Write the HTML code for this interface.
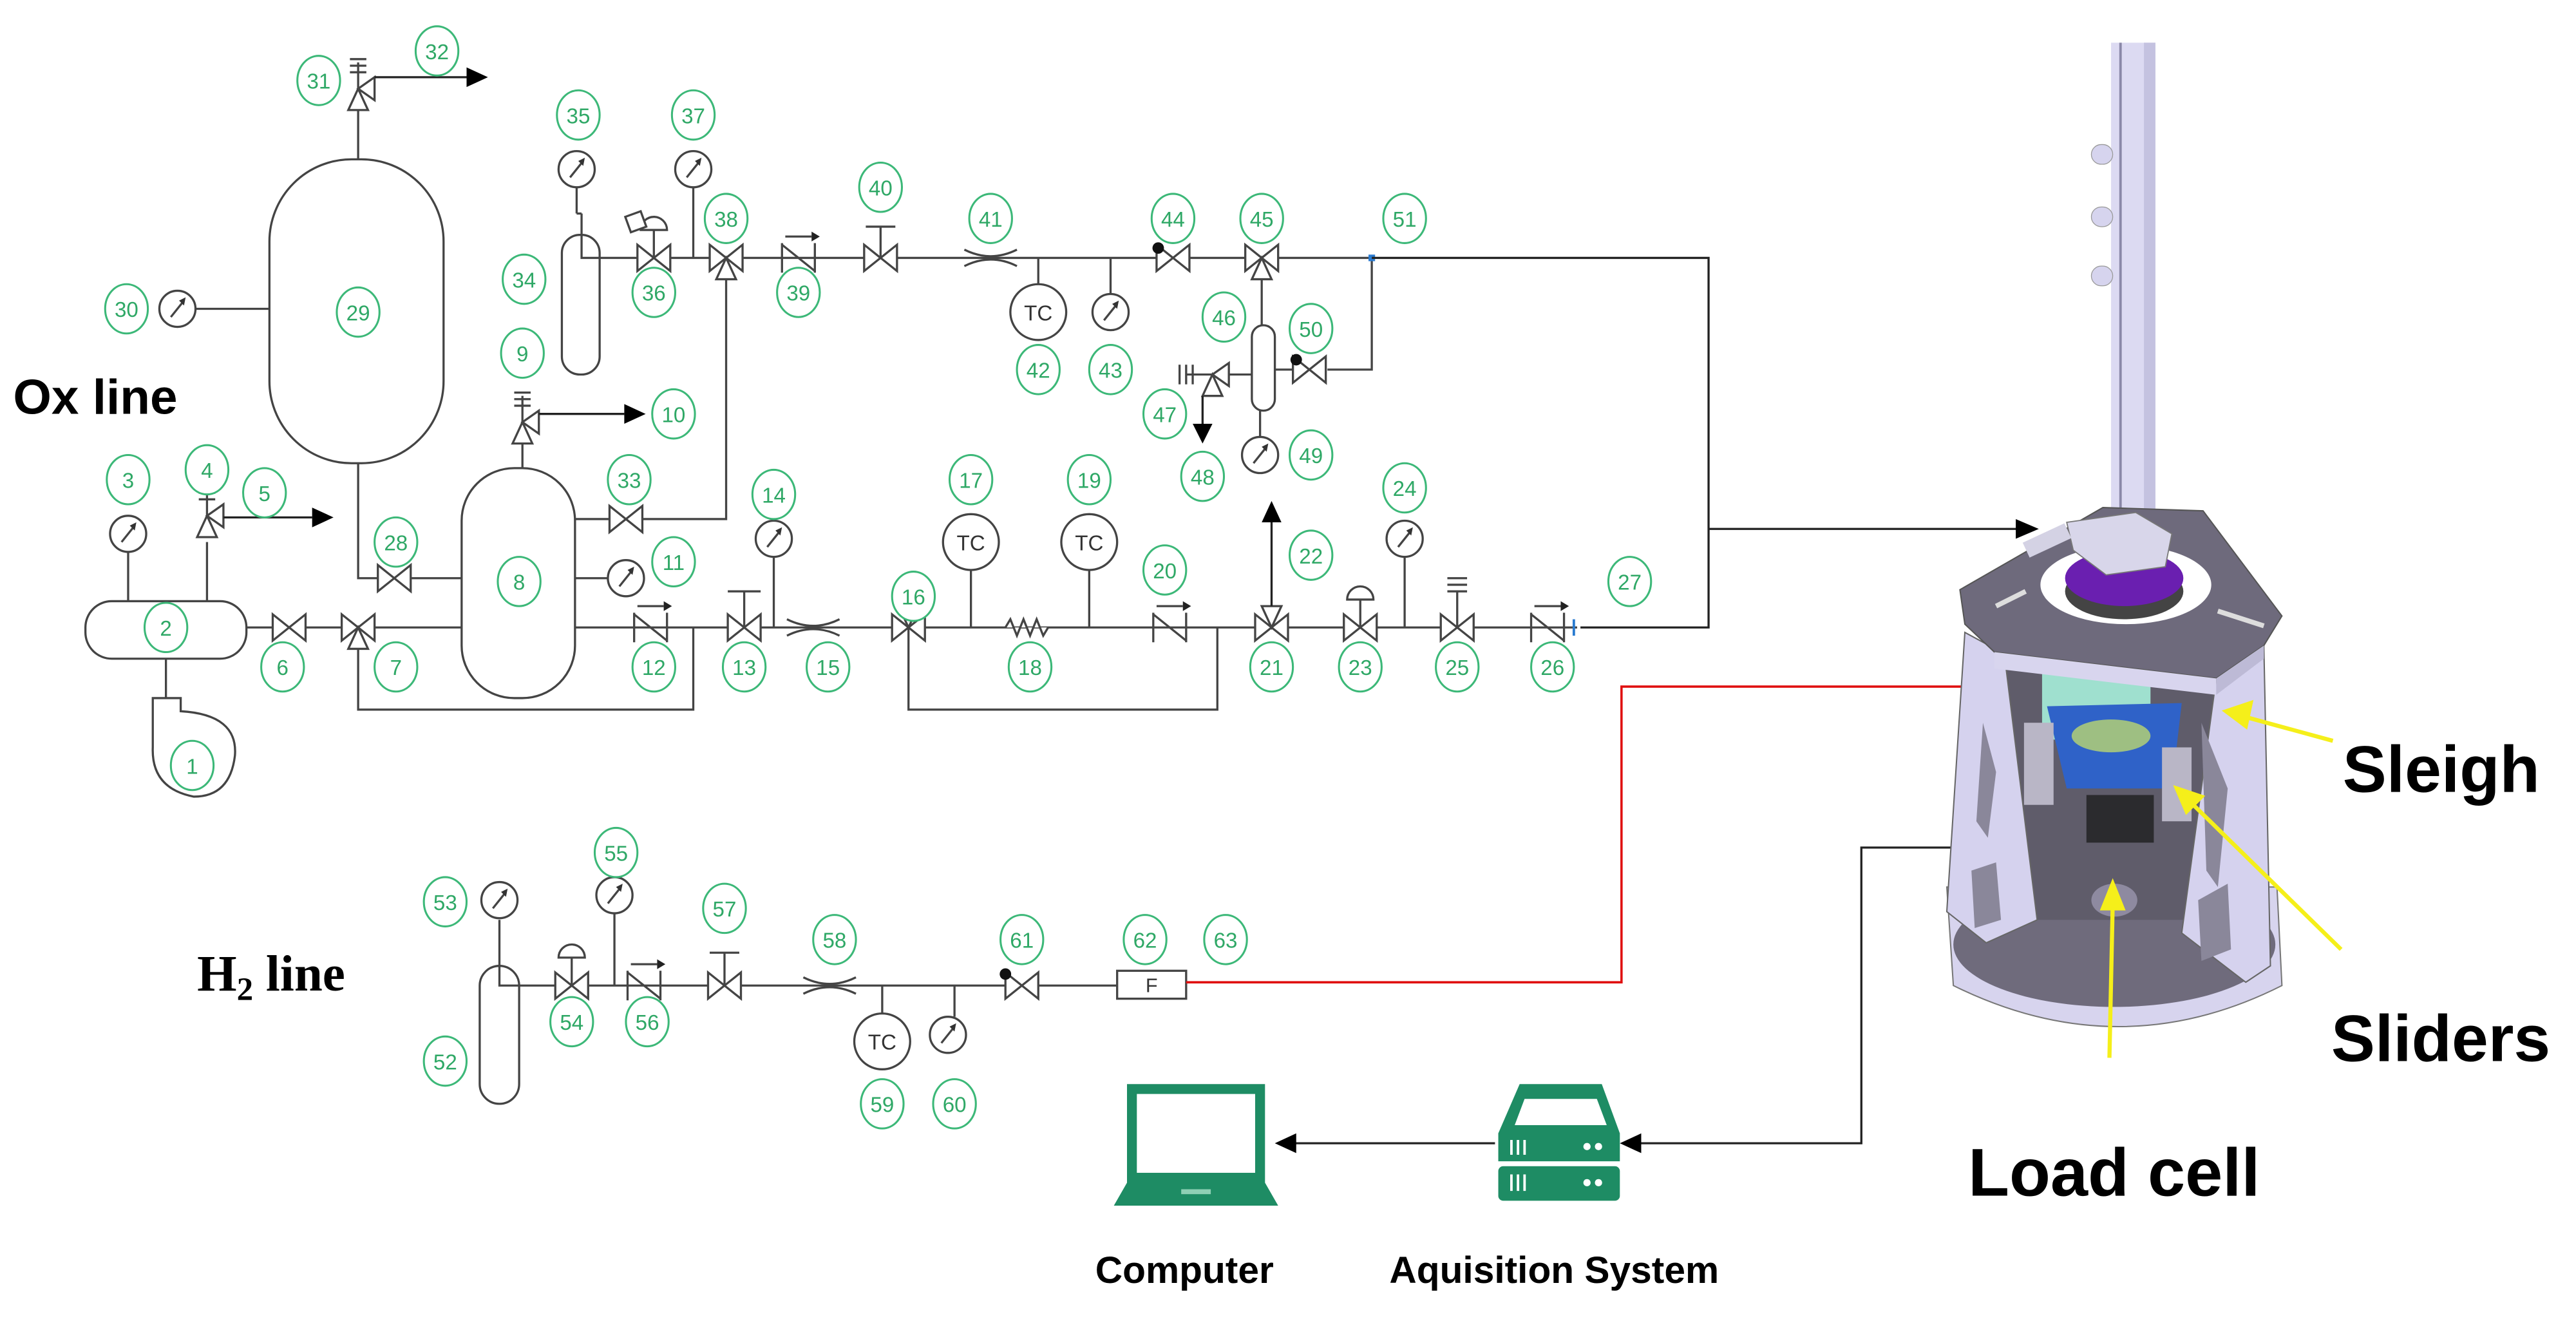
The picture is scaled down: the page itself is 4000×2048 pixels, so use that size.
<!DOCTYPE html>
<html><head><meta charset="utf-8"><style>
html,body{margin:0;padding:0;background:#fff;}
svg{display:block;}
.l{fill:none;stroke:#444;stroke-width:1.3}
.k{fill:none;stroke:#222;stroke-width:1.3}
.s{fill:#fff;stroke:#444;stroke-width:1.3}
.lb ellipse{fill:#fff;stroke:#3cb878;stroke-width:1.2}
.lb text{fill:#2fa866;font-family:"Liberation Sans",sans-serif;font-size:13px;text-anchor:middle}
.b{font-family:"Liberation Sans",sans-serif;font-weight:bold;fill:#000}
</style></head><body>
<svg width="4000" height="2048" viewBox="0 0 1568 803" preserveAspectRatio="none" xmlns="http://www.w3.org/2000/svg">
<defs>
<g id="v"><path class="s" d="M-10,-8 L0,0 L-10,8Z M10,-8 L0,0 L10,8Z"/></g>
<g id="v3"><path class="s" d="M-10,-8 L0,0 L-10,8Z M10,-8 L0,0 L10,8Z M0,0 L-6,13 L6,13Z"/></g>
<g id="v3u"><path class="s" d="M-10,-8 L0,0 L-10,8Z M10,-8 L0,0 L10,8Z M0,0 L-6,-13 L6,-13Z"/></g>
<g id="ck"><path class="l" d="M-10,-9 V9 M10,-9 V9 M-10,-8 L10,8"/><path class="l" d="M-8,-13 H8"/><path d="M8,-16 L13,-13 L8,-10Z" fill="#222"/></g>
<g id="g"><circle class="s" r="11"/><path class="l" d="M-4,5 L4,-5"/><path d="M5,-7 L1,-5 L4,-2Z" fill="#333"/></g>
<g id="tc"><circle class="s" r="17"/><text y="5" text-anchor="middle" font-family="Liberation Sans,sans-serif" font-size="13" fill="#333">TC</text></g>
<g id="or"><path class="l" d="M-16,-5 Q0,3 16,-5 M-16,5 Q0,-3 16,5"/></g>
<g id="rv"><path class="s" d="M0,0 L-6,13 L6,13Z M0,0 L10,-7 L10,7Z"/><path class="l" d="M0,0 V-16 M-5,-10 H5 M-5,-14 H5 M-5,-18 H5"/></g>
</defs>

<rect class="s" x="52" y="366" width="98" height="35" rx="16"/>
<path class="l" d="M78,336 V366 M126,330 V366 M101,401 V425"/>
<path class="s" d="M93,425 H110 V433 Q145,435 143,460 Q140,485 118,485 Q92,480 93,455 Z"/>
<use href="#g" x="78" y="325"/>
<use href="#rv" x="126" y="322" transform="translate(0,-8)"/>
<path class="k" d="M136,315 H190"/><path d="M190,309 L203,315 L190,321Z" fill="#000"/>
<path class="l" d="M150,382 H281 M350,382 H960"/>
<use href="#v" x="176" y="382"/>
<use href="#v3" x="218" y="382"/>
<path class="l" d="M218,395 V432 H422 V382"/>
<rect class="s" x="164" y="97" width="106" height="185" rx="50"/>
<path class="l" d="M218,282 V352 H281 M119,188 H164 M218,97 V66"/>
<use href="#g" x="108" y="188"/>
<use href="#rv" x="218" y="66" transform="translate(0,-12)"/>
<path class="k" d="M228,47 H285"/><path d="M284,41 L297,47 L284,53Z" fill="#000"/>
<use href="#v" x="240" y="352"/>
<rect class="s" x="281" y="285" width="69" height="140" rx="32"/>
<path class="l" d="M318,285 V270 M350,316 H442 V165 M350,352 H370"/>
<use href="#rv" x="318" y="270" transform="translate(0,-13)"/>
<path class="k" d="M328,252 H380"/><path d="M380,246 L393,252 L380,258Z" fill="#000"/>
<use href="#v" x="381" y="316"/>
<use href="#g" x="381" y="352"/>
<use href="#ck" x="396" y="382"/>
<path class="l" d="M453,382 V360 M443,360 H463 M471,382 V339"/>
<use href="#v" x="453" y="382"/>
<use href="#g" x="471" y="328"/>
<use href="#or" x="495" y="382"/>
<use href="#v3u" x="553" y="382"/>
<path class="l" d="M553,382 V432 H741 V382"/>
<path class="l" d="M591,347 V382 M663,347 V382"/>
<use href="#tc" x="591" y="330"/><use href="#tc" x="663" y="330"/>
<path class="s" d="M612,382 l3,-5 l4,10 l4,-10 l4,10 l4,-10 l4,10 l3,-5"/>
<use href="#ck" x="712" y="382"/>
<use href="#v3u" x="774" y="382"/>
<path class="k" d="M774,369 V318"/><path d="M768,318 L774,305 L780,318Z" fill="#000"/>
<use href="#v" x="828" y="382"/>
<path class="l" d="M828,382 V365"/><path class="s" d="M820,365 A8,8 0 0 1 836,365 Z"/>
<path class="l" d="M855,339 V382 M887,382 V360 M881,352 H893 M881,356 H893 M881,360 H893"/>
<use href="#g" x="855" y="328"/>
<use href="#v" x="887" y="382"/>
<use href="#ck" x="942" y="382"/>
<rect class="s" x="342" y="143" width="23" height="85" rx="11"/>
<path class="l" d="M354,143 V130 M351,114 V130 M422,114 V157 M354,130 H351 M354,130 V157 H835 M398,157 V140"/>
<use href="#g" x="351" y="103"/><use href="#g" x="422" y="103"/>
<use href="#v" x="398" y="157"/>
<path class="s" d="M390,140 A8,8 0 0 1 406,140 Z"/><path class="s" d="M382,130 H392 V140 H382Z" transform="rotate(-20 387 135)"/>
<use href="#v3" x="442" y="157"/>
<use href="#ck" x="486" y="157"/>
<path class="l" d="M536,157 V138 M527,138 H545"/>
<use href="#v" x="536" y="157"/>
<use href="#or" x="603" y="157"/>
<path class="l" d="M632,157 V173 M676,157 V179"/>
<use href="#tc" x="632" y="190"/><use href="#g" x="676" y="190"/>
<use href="#v" x="714" y="157"/><circle cx="705" cy="151" r="3.5" fill="#111"/>
<use href="#v3" x="768" y="157"/>
<path class="l" d="M768,170 V198 M835,157 V225 H808 M776,225 H787"/>
<rect class="s" x="762" y="198" width="14" height="52" rx="7"/>
<use href="#v" x="797" y="225"/><circle cx="789" cy="219" r="3.5" fill="#111"/>
<path class="l" d="M762,228 H748 M767,250 V266"/>
<use href="#g" x="767" y="277"/>
<path class="s" d="M738,228 L748,221 L748,235Z M738,228 L732,241 L744,241Z"/>
<path class="l" d="M738,228 H722 M726,222 V234 M722,222 V234 M718,222 V234"/>
<path class="k" d="M732,241 V258"/><path d="M726,258 L732,270 L738,258Z" fill="#000"/>
<path d="M833,155 h4 v4 h-4z" fill="#2a7bd0"/>
<path class="k" d="M835,157 H1040 V382 H962 M1040,322 H1228"/>
<path d="M1227,316 L1241,322 L1227,328Z" fill="#000"/>
<path d="M958,377 v10" stroke="#2a7bd0" stroke-width="1.5"/>

<rect class="s" x="292" y="588" width="24" height="84" rx="12"/>
<path class="l" d="M304,588 V560 M304,588 V600 H680 M374,556 V600 M348,600 V583"/>
<use href="#g" x="304" y="548"/><use href="#g" x="374" y="545"/>
<use href="#v" x="348" y="600"/><path class="s" d="M340,583 A8,8 0 0 1 356,583 Z"/>
<use href="#ck" x="392" y="600"/>
<path class="l" d="M441,600 V580 M432,580 H450"/>
<use href="#v" x="441" y="600"/>
<use href="#or" x="505" y="600"/>
<path class="l" d="M537,600 V617 M581,600 V619"/>
<use href="#tc" x="537" y="634"/><use href="#g" x="577" y="630"/>
<use href="#v" x="622" y="600"/><circle cx="612" cy="593" r="3.5" fill="#111"/>
<rect class="s" x="680" y="591" width="42" height="17"/>
<text x="701" y="604" text-anchor="middle" font-family="Liberation Sans,sans-serif" font-size="12" fill="#333">F</text>
<path d="M722,598 H987 V418 H1230" fill="none" stroke="#e01010" stroke-width="1.4"/>
<path d="M1229,412 L1243,418 L1229,424Z" fill="#e01010"/>
<path class="k" d="M1290,516 H1133 V696 H998"/>
<path d="M999,690 L986,696 L999,702Z" fill="#000"/>
<path class="k" d="M910,696 H788"/>
<path d="M789,690 L776,696 L789,702Z" fill="#000"/>

<path d="M686,660 H770 V720 L778,734 H678 L686,720Z" fill="#1e8c64"/>
<rect x="692" y="666" width="72" height="48" fill="#fff"/>
<rect x="719" y="724" width="18" height="3" fill="#8fd0b5"/>
<path d="M925,660 H975 L986,690 V707 H912 V690Z" fill="#1e8c64"/>
<path d="M928,669 H972 L978,685 H922Z" fill="#fff"/>
<rect x="912" y="710" width="74" height="21" rx="3" fill="#1e8c64"/>
<path d="M920,694 v9 M924,694 v9 M928,694 v9 M920,715 v10 M924,715 v10 M928,715 v10" stroke="#fff" stroke-width="1.5"/>
<circle cx="966" cy="698" r="2.2" fill="#fff"/><circle cx="973" cy="698" r="2.2" fill="#fff"/>
<circle cx="966" cy="720" r="2.2" fill="#fff"/><circle cx="973" cy="720" r="2.2" fill="#fff"/>

<text class="b" x="8" y="252" font-size="30">Ox line</text>
<text x="120" y="603" font-family="Liberation Serif,serif" font-weight="bold" font-size="31">H<tspan font-size="20" dy="6">2</tspan><tspan dy="-6"> line</tspan></text>
<text class="b" x="721" y="781" font-size="23" text-anchor="middle">Computer</text>
<text class="b" x="946" y="781" font-size="23" text-anchor="middle">Aquisition System</text>
<text class="b" x="1426" y="482" font-size="40">Sleigh</text>
<text class="b" x="1419" y="646" font-size="40">Sliders</text>
<text class="b" x="1198" y="728" font-size="41">Load cell</text>

<rect x="1285" y="26" width="27" height="298" fill="#dcdaf2"/>
<rect x="1290" y="26" width="1.5" height="298" fill="#8a88a8"/>
<rect x="1305" y="26" width="7" height="298" fill="#c4c2e0"/>
<g fill="#d6d4ee" stroke="#999" stroke-width="0.5"><rect x="1273" y="88" width="13" height="12" rx="6"/><rect x="1273" y="126" width="13" height="12" rx="6"/><rect x="1273" y="162" width="13" height="12" rx="6"/></g>
<path d="M1185,540 L1189,600 Q1290,650 1389,600 L1386,540 Z" fill="#d7d4ee" stroke="#777" stroke-width="0.8"/>
<ellipse cx="1287" cy="575" rx="98" ry="38" fill="#6f6b7c"/>
<path d="M1220,398 L1349,413 L1340,560 L1230,560 Z" fill="#5f5c6a"/>
<path d="M1196,385 L1220,398 L1240,560 L1209,574 L1185,555 Z" fill="#d5d2ee" stroke="#666" stroke-width="0.8"/>
<path d="M1349,413 L1378,393 L1382,588 L1367,598 L1328,568 Z" fill="#d5d2ee" stroke="#666" stroke-width="0.8"/>
<path d="M1207,440 L1215,470 L1210,510 L1203,500Z M1340,440 L1356,480 L1350,540 L1343,530Z" fill="#8a879a"/>
<path d="M1200,530 L1215,525 L1218,560 L1202,565Z M1338,548 L1356,538 L1358,578 L1340,585Z" fill="#8a879a"/>
<path d="M1243,406 L1309,410 L1309,452 L1243,450 Z" fill="#9fe0cf"/>
<path d="M1246,430 L1328,428 L1322,480 L1258,480 Z" fill="#2f62c8"/>
<ellipse cx="1285" cy="448" rx="24" ry="10" fill="#9ebf82"/>
<rect x="1270" y="484" width="41" height="29" fill="#2b2b2e"/>
<rect x="1232" y="440" width="18" height="50" fill="#b9b6c6"/>
<rect x="1316" y="455" width="18" height="45" fill="#b9b6c6"/>
<ellipse cx="1287" cy="548" rx="14" ry="10" fill="#8e8aa0"/>
<path d="M1193,359 L1280,309 L1341,311 L1389,375 L1378,393 L1349,413 L1214,397 L1196,380 Z" fill="#6e6a7c" stroke="#555" stroke-width="0.8"/>
<path d="M1214,397 L1349,413 L1349,423 L1214,407 Z" fill="#d8d5ee"/>
<path d="M1349,413 L1378,393 L1378,401 L1349,423Z" fill="#bdbad6"/>
<ellipse cx="1294" cy="356" rx="52" ry="24" fill="#fff"/>
<ellipse cx="1293" cy="360" rx="36" ry="17" fill="#444"/>
<ellipse cx="1293" cy="352" rx="36" ry="17" fill="#6a1fb0"/>
<path d="M1258,318 L1300,312 L1322,325 L1318,345 L1282,350 L1262,335Z" fill="#d8d6ea" stroke="#777" stroke-width="0.7"/>
<rect x="1232" y="324" width="28" height="10" fill="#d4d2e4" transform="rotate(-25 1246 329)"/>
<path d="M1350,372 L1378,381" stroke="#ddd" stroke-width="3"/>
<path d="M1215,369 L1233,360" stroke="#ddd" stroke-width="3"/>
<g stroke="#f5ef1a" stroke-width="2.5" fill="#f5ef1a">
<path d="M1420,451 L1365,436"/><path d="M1355,433 L1370,428 L1367,442Z"/>
<path d="M1425,578 L1332,487"/><path d="M1325,480 L1340,485 L1331,494Z"/>
<path d="M1284,644 L1286,550"/><path d="M1286,538 L1292,553 L1280,553Z"/>
</g>

<g class="lb">
<g transform="translate(117,466)"><ellipse rx="13" ry="15"/><text y="5">1</text></g>
<g transform="translate(101,382)"><ellipse rx="13" ry="15"/><text y="5">2</text></g>
<g transform="translate(78,292)"><ellipse rx="13" ry="15"/><text y="5">3</text></g>
<g transform="translate(126,286)"><ellipse rx="13" ry="15"/><text y="5">4</text></g>
<g transform="translate(161,300)"><ellipse rx="13" ry="15"/><text y="5">5</text></g>
<g transform="translate(172,406)"><ellipse rx="13" ry="15"/><text y="5">6</text></g>
<g transform="translate(241,406)"><ellipse rx="13" ry="15"/><text y="5">7</text></g>
<g transform="translate(316,354)"><ellipse rx="13" ry="15"/><text y="5">8</text></g>
<g transform="translate(318,215)"><ellipse rx="13" ry="15"/><text y="5">9</text></g>
<g transform="translate(410,252)"><ellipse rx="13" ry="15"/><text y="5">10</text></g>
<g transform="translate(410,342)"><ellipse rx="13" ry="15"/><text y="5">11</text></g>
<g transform="translate(398,406)"><ellipse rx="13" ry="15"/><text y="5">12</text></g>
<g transform="translate(453,406)"><ellipse rx="13" ry="15"/><text y="5">13</text></g>
<g transform="translate(471,301)"><ellipse rx="13" ry="15"/><text y="5">14</text></g>
<g transform="translate(504,406)"><ellipse rx="13" ry="15"/><text y="5">15</text></g>
<g transform="translate(556,363)"><ellipse rx="13" ry="15"/><text y="5">16</text></g>
<g transform="translate(591,292)"><ellipse rx="13" ry="15"/><text y="5">17</text></g>
<g transform="translate(627,406)"><ellipse rx="13" ry="15"/><text y="5">18</text></g>
<g transform="translate(663,292)"><ellipse rx="13" ry="15"/><text y="5">19</text></g>
<g transform="translate(709,347)"><ellipse rx="13" ry="15"/><text y="5">20</text></g>
<g transform="translate(774,406)"><ellipse rx="13" ry="15"/><text y="5">21</text></g>
<g transform="translate(798,338)"><ellipse rx="13" ry="15"/><text y="5">22</text></g>
<g transform="translate(828,406)"><ellipse rx="13" ry="15"/><text y="5">23</text></g>
<g transform="translate(855,297)"><ellipse rx="13" ry="15"/><text y="5">24</text></g>
<g transform="translate(887,406)"><ellipse rx="13" ry="15"/><text y="5">25</text></g>
<g transform="translate(945,406)"><ellipse rx="13" ry="15"/><text y="5">26</text></g>
<g transform="translate(992,354)"><ellipse rx="13" ry="15"/><text y="5">27</text></g>
<g transform="translate(241,330)"><ellipse rx="13" ry="15"/><text y="5">28</text></g>
<g transform="translate(218,190)"><ellipse rx="13" ry="15"/><text y="5">29</text></g>
<g transform="translate(77,188)"><ellipse rx="13" ry="15"/><text y="5">30</text></g>
<g transform="translate(194,49)"><ellipse rx="13" ry="15"/><text y="5">31</text></g>
<g transform="translate(266,31)"><ellipse rx="13" ry="15"/><text y="5">32</text></g>
<g transform="translate(383,292)"><ellipse rx="13" ry="15"/><text y="5">33</text></g>
<g transform="translate(319,170)"><ellipse rx="13" ry="15"/><text y="5">34</text></g>
<g transform="translate(352,70)"><ellipse rx="13" ry="15"/><text y="5">35</text></g>
<g transform="translate(398,178)"><ellipse rx="13" ry="15"/><text y="5">36</text></g>
<g transform="translate(422,70)"><ellipse rx="13" ry="15"/><text y="5">37</text></g>
<g transform="translate(442,133)"><ellipse rx="13" ry="15"/><text y="5">38</text></g>
<g transform="translate(486,178)"><ellipse rx="13" ry="15"/><text y="5">39</text></g>
<g transform="translate(536,114)"><ellipse rx="13" ry="15"/><text y="5">40</text></g>
<g transform="translate(603,133)"><ellipse rx="13" ry="15"/><text y="5">41</text></g>
<g transform="translate(632,225)"><ellipse rx="13" ry="15"/><text y="5">42</text></g>
<g transform="translate(676,225)"><ellipse rx="13" ry="15"/><text y="5">43</text></g>
<g transform="translate(714,133)"><ellipse rx="13" ry="15"/><text y="5">44</text></g>
<g transform="translate(768,133)"><ellipse rx="13" ry="15"/><text y="5">45</text></g>
<g transform="translate(745,193)"><ellipse rx="13" ry="15"/><text y="5">46</text></g>
<g transform="translate(709,252)"><ellipse rx="13" ry="15"/><text y="5">47</text></g>
<g transform="translate(732,290)"><ellipse rx="13" ry="15"/><text y="5">48</text></g>
<g transform="translate(798,277)"><ellipse rx="13" ry="15"/><text y="5">49</text></g>
<g transform="translate(798,200)"><ellipse rx="13" ry="15"/><text y="5">50</text></g>
<g transform="translate(855,133)"><ellipse rx="13" ry="15"/><text y="5">51</text></g>
<g transform="translate(271,646)"><ellipse rx="13" ry="15"/><text y="5">52</text></g>
<g transform="translate(271,549)"><ellipse rx="13" ry="15"/><text y="5">53</text></g>
<g transform="translate(348,622)"><ellipse rx="13" ry="15"/><text y="5">54</text></g>
<g transform="translate(375,519)"><ellipse rx="13" ry="15"/><text y="5">55</text></g>
<g transform="translate(394,622)"><ellipse rx="13" ry="15"/><text y="5">56</text></g>
<g transform="translate(441,553)"><ellipse rx="13" ry="15"/><text y="5">57</text></g>
<g transform="translate(508,572)"><ellipse rx="13" ry="15"/><text y="5">58</text></g>
<g transform="translate(537,672)"><ellipse rx="13" ry="15"/><text y="5">59</text></g>
<g transform="translate(581,672)"><ellipse rx="13" ry="15"/><text y="5">60</text></g>
<g transform="translate(622,572)"><ellipse rx="13" ry="15"/><text y="5">61</text></g>
<g transform="translate(697,572)"><ellipse rx="13" ry="15"/><text y="5">62</text></g>
<g transform="translate(746,572)"><ellipse rx="13" ry="15"/><text y="5">63</text></g>
</g>
</svg>
</body></html>
